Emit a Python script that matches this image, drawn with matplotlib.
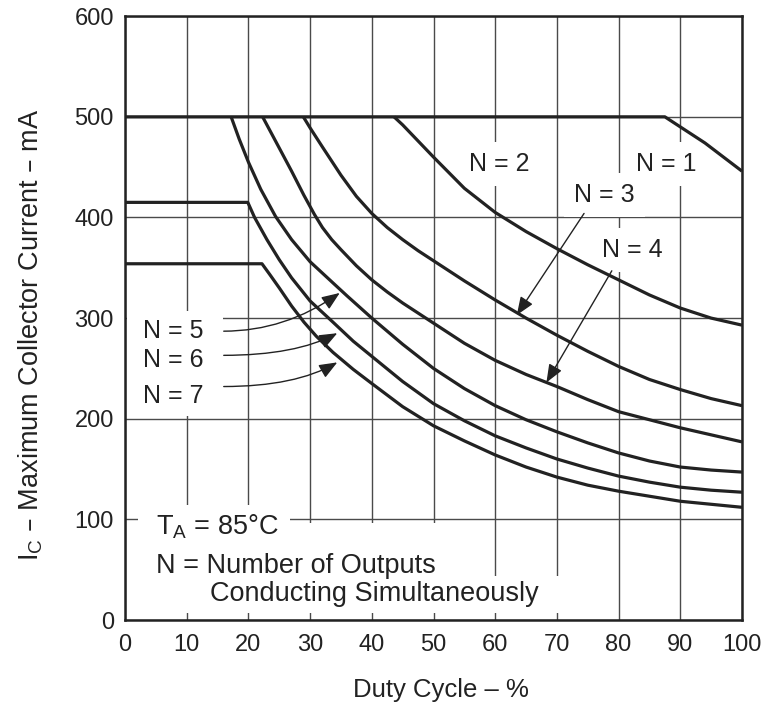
import matplotlib
matplotlib.use("Agg")
import matplotlib.pyplot as plt
from matplotlib.patches import Rectangle

plt.rcParams['font.family'] = ['Liberation Sans', 'DejaVu Sans']

# duty cycle (%) vs maximum collector current (mA)
n1_x = [0, 87.5, 94, 100]
n1_y = [500, 500, 474, 446]
n2_x = [43.6, 45, 47.5, 50, 55, 60, 65, 70, 75, 80, 85, 90, 95, 100]
n2_y = [500, 492, 476, 460, 429, 405, 386, 369, 353, 338, 323, 310, 300, 293]
n3_x = [28.9, 30, 32, 35, 37.5, 40, 42.5, 45, 47.5, 50, 55, 60, 65, 70, 75, 80, 85, 90, 95, 100]
n3_y = [500, 489, 470, 442, 421, 404, 390, 378, 367, 357, 337, 318, 300, 283, 267, 252, 239, 229, 220, 213]
n4_x = [22.3, 25, 27, 29, 30.7, 32, 33.5, 35, 37.5, 40, 42.5, 45, 50, 55, 60, 65, 70, 75, 80, 85, 90, 95, 100]
n4_y = [500, 469, 446, 422, 403, 390, 378, 368, 352, 338, 326, 315, 295, 275, 258, 244, 232, 219, 207, 199, 191, 184, 177]
n5_x = [17.2, 18.5, 20, 22, 24.4, 27, 30, 33.7, 36, 40, 45, 50, 55, 60, 65, 70, 75, 80, 85, 90, 95, 100]
n5_y = [500, 478, 455, 428, 401, 378, 356, 335, 322, 300, 274, 250, 230, 213, 199, 187, 176, 166, 158, 152, 149, 147]
n6_x = [0, 19.9, 21, 23, 25, 27, 30, 33.7, 37, 40, 45, 50, 55, 60, 65, 70, 75, 80, 85, 90, 95, 100]
n6_y = [415, 415, 400, 378, 358, 340, 317, 296, 277, 262, 237, 215, 198, 183, 171, 160, 151, 143, 137, 132, 129, 127]
n7_x = [0, 22.2, 23.5, 25, 27, 29, 31, 33.7, 37, 40, 45, 50, 55, 60, 65, 70, 75, 80, 85, 90, 95, 100]
n7_y = [354, 354, 343, 330, 312, 296, 282, 266, 249, 235, 212, 193, 178, 164, 152, 142, 134, 128, 123, 118, 115, 112]

x_ticks = list(range(0, 101, 10))
y_ticks = list(range(0, 601, 100))

ink = '#222222'
grid_c = '#4a4a4a'

fig = plt.figure(figsize=(7.67, 7.04), dpi=100)
ax = fig.add_axes([0.163, 0.1193, 0.8044, 0.8577])
ax.set_xlim(0, 100)
ax.set_ylim(0, 600)
ax.set_xticks(x_ticks)
ax.set_yticks(y_ticks)
ax.set_axisbelow(True)
ax.grid(True, color=grid_c, lw=1.0)
ax.tick_params(axis='both', length=0, labelsize=17, colors=ink)
ax.tick_params(axis='x', pad=10)
ax.tick_params(axis='y', pad=8)
for s in ax.spines.values():
    s.set_linewidth(1.8)
    s.set_color(ink)

# white areas behind the notes, they break the grid like in the original
for (x0, y0, w, h) in [(2.1, 7, 24.7, 107), (2.1, 7, 50.3, 89),
                       (2.1, 7, 68.5, 37), (0.3, 203, 15.5, 104)]:
    ax.add_patch(Rectangle((x0, y0), w, h, facecolor='white',
                           edgecolor='none', zorder=1))

for xs, ys in [(n1_x, n1_y), (n2_x, n2_y), (n3_x, n3_y), (n4_x, n4_y),
               (n5_x, n5_y), (n6_x, n6_y), (n7_x, n7_y)]:
    ax.plot(xs, ys, color=ink, lw=2.3, solid_capstyle='butt',
            solid_joinstyle='round', zorder=3)

lab = 18
box = dict(boxstyle='square,pad=0.4', facecolor='white', edgecolor='none')
ax.text(60.6, 446, 'N = 2', fontsize=lab, color=ink, ha='center',
        va='baseline', bbox=box, zorder=2)
ax.text(87.8, 446, 'N = 1', fontsize=lab, color=ink, ha='center',
        va='baseline', bbox=box, zorder=2)
ax.text(77.7, 415, 'N = 3', fontsize=lab, color=ink, ha='center',
        va='baseline', bbox=box, zorder=2)
ax.text(82.3, 361, 'N = 4', fontsize=lab, color=ink, ha='center',
        va='baseline', bbox=box, zorder=2)
ax.text(2.9, 280, 'N = 5', fontsize=lab, color=ink, va='baseline', zorder=2)
ax.text(2.9, 251, 'N = 6', fontsize=lab, color=ink, va='baseline', zorder=2)
ax.text(2.9, 216, 'N = 7', fontsize=lab, color=ink, va='baseline', zorder=2)

note = 19.5
ax.text(5.0, 85, r'T$_\mathregular{A}$ = 85°C', fontsize=note, color=ink,
        va='baseline', zorder=2)
ax.text(5.0, 47, 'N = Number of Outputs', fontsize=note, color=ink,
        va='baseline', zorder=2)
ax.text(13.8, 19, 'Conducting Simultaneously', fontsize=note, color=ink,
        va='baseline', zorder=2)

head = '-|>,head_length=0.55,head_width=0.22'
ax.annotate('', xy=(63.5, 303), xytext=(74.4, 404),
            arrowprops=dict(arrowstyle=head, color=ink, lw=1.0,
                            mutation_scale=20, shrinkA=0, shrinkB=0),
            zorder=4)
ax.annotate('', xy=(68.3, 236), xytext=(78.9, 347),
            arrowprops=dict(arrowstyle=head, color=ink, lw=1.0,
                            mutation_scale=20, shrinkA=0, shrinkB=0),
            zorder=4)
for start, tip, ang in [((16.0, 287), (34.8, 325), 35),
                        ((16.0, 263), (34.4, 285), 28),
                        ((16.0, 232), (34.4, 256), 30)]:
    ax.annotate('', xy=tip, xytext=start,
                arrowprops=dict(arrowstyle=head, color=ink, lw=1.0,
                                mutation_scale=20, shrinkA=0, shrinkB=0,
                                connectionstyle='angle3,angleA=0,angleB=%d' % ang),
                zorder=4)

fig.text(441 / 767, 1 - 690 / 704, 'Duty Cycle – %', fontsize=18.5, color=ink,
         ha='center', va='center')
fig.text(31 / 767, 1 - 335 / 704,
         r'I$_\mathregular{C}$ – Maximum Collector Current – mA',
         fontsize=19.5, color=ink, ha='center', va='center', rotation=90)

fig.savefig('out.png', dpi=100, facecolor='white')
